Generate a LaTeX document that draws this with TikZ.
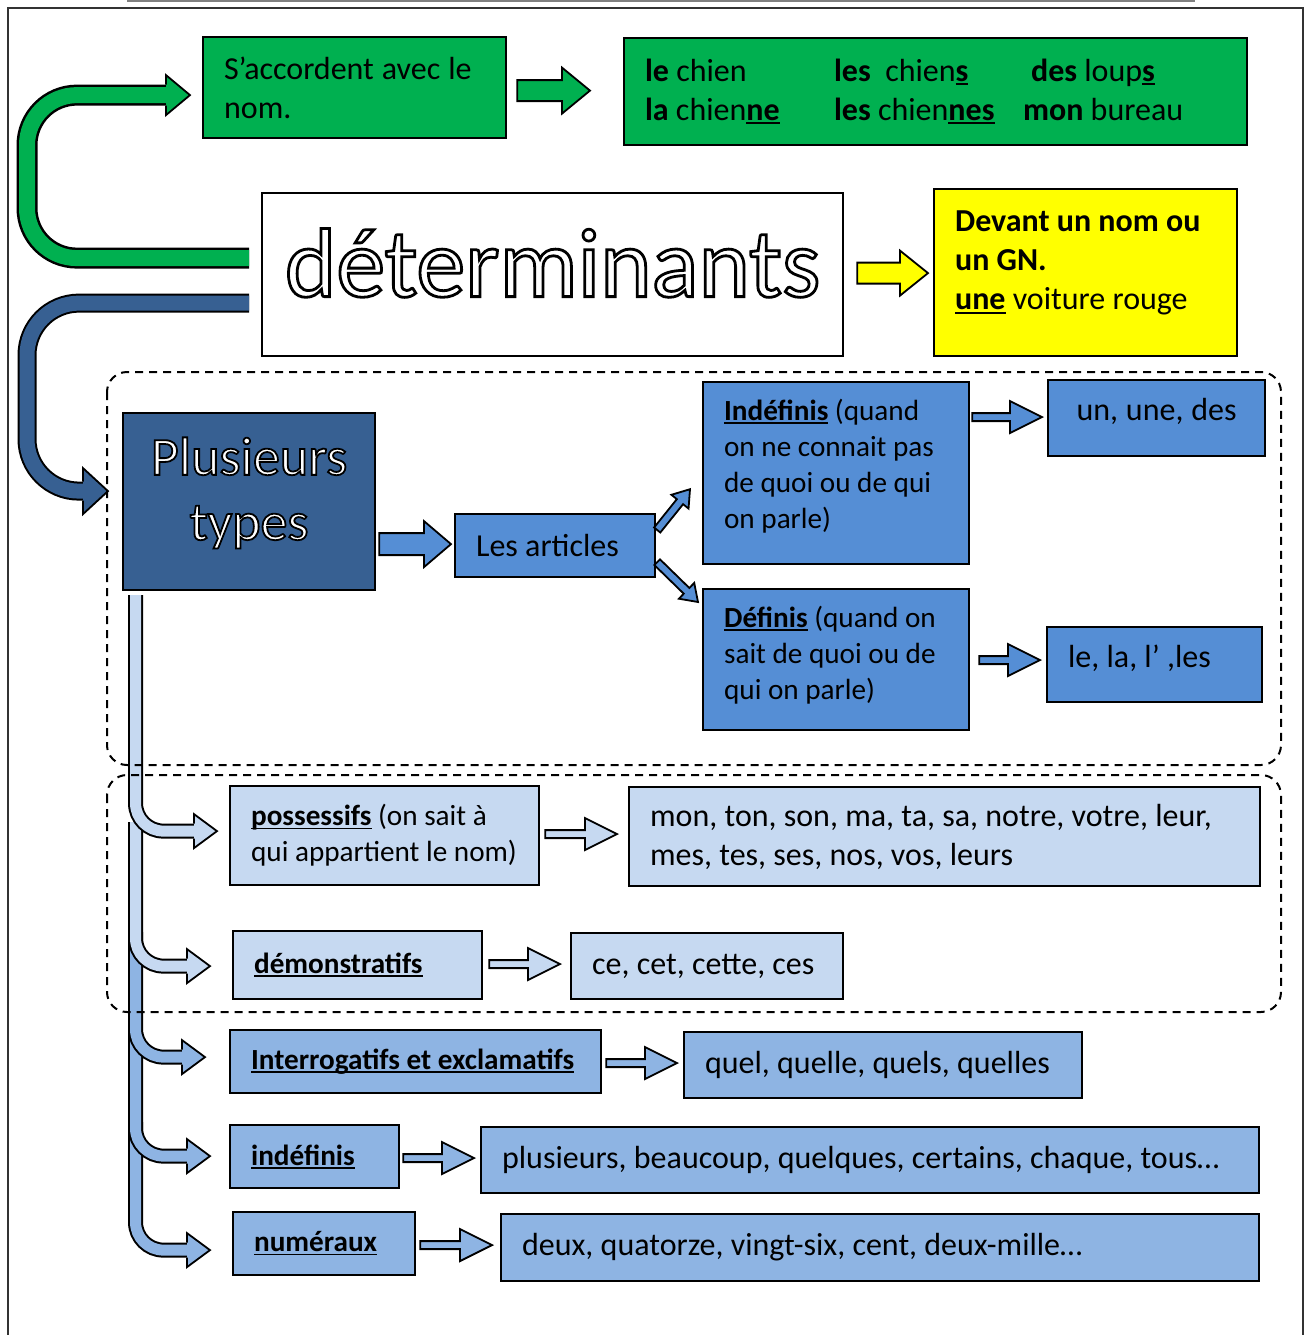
\documentclass[tikz,border=0pt]{standalone}
\usepackage{fontspec}
\setmainfont{Carlito}
\usepackage{xcolor}
\usepackage{tikz}
\usetikzlibrary{positioning, calc}
\definecolor{vert}{HTML}{00B050}
\definecolor{jaune}{HTML}{FFFF00}
\definecolor{bleufonce}{HTML}{376092}
\definecolor{bleu}{HTML}{558ED5}
\definecolor{bleuclair}{HTML}{C6D9F1}
\definecolor{bleumoyen}{HTML}{8EB4E3}

% word underlined close to the baseline
\newcommand{\souligne}[1]{\leavevmode\setbox0\hbox{#1}\rlap{\rule[-0.12em]{\wd0}{0.06em}}\box0\relax}
% white letters with a black outline (text render mode 2), [stroke width]
\newcommand{\creux}[2][1.5]{\special{pdf:literal direct 2 Tr #1 w 0 G 1 g}#2}

% straight block arrow: [style]{from}{to}{shaft half}{head half}{head length}
\newcommand{\blockarrow}[6][]{%
  \coordinate (ba-base) at ($(#3)!#6!(#2)$);
  \filldraw[fleche,#1] ($(#2)!#4!90:(#3)$) -- ($(ba-base)!#4!90:(#3)$)
    -- ($(ba-base)!#5!90:(#3)$) -- (#3) -- ($(ba-base)!#5!-90:(#3)$)
    -- ($(ba-base)!#4!-90:(#3)$) -- ($(#2)!#4!-90:(#3)$) -- cycle;
}
% head of a bent arrow: [style]{base}{tip}{shaft half}{head half}
\newcommand{\pointe}[5][]{%
  \filldraw[fleche,#1] ($(#2)+(0,-#4)$) -- ($(#2)+(0,-#5)$) -- (#3)
    -- ($(#2)+(0,#5)$) -- ($(#2)+(0,#4)$);
}

\begin{document}
\begin{tikzpicture}[x=0.5pt, y=-0.5pt,
    boite/.style={draw, line width=1.1pt, anchor=north west, inner xsep=10.5pt,
      inner ysep=0pt, align=left, font=\fontsize{16}{19.5}\selectfont,
      execute at begin node={\spaceskip=0pt\xspaceskip=0pt\relax}},
    petit/.style={font=\fontsize{14.6}{18}\selectfont},
    fleche/.style={draw, line width=0.9pt, line join=miter},
    cadre/.style={draw, line width=1pt, dash pattern=on 4pt off 3pt, rounded corners=10pt}]

    \useasboundingbox (0,0) rectangle (1305,1335);

    % page frame
    \draw[gray, line width=1pt] (127,1) -- (1195,1);
    \draw[black!80, line width=0.8pt] (8,1335) -- (8,8) -- (1303,8) -- (1303,1335);

    % top part
    \node[boite, fill=vert, text width=130.5pt, minimum height=50.5pt] (accord) at (202,36)
        {S’accordent avec le nom.};
    \node[boite, fill=vert, text width=290.5pt, minimum height=53.5pt] (exemples) at (623,37)
        {\makebox[94.5pt][l]{\textbf{le} chien}\makebox[98.5pt][l]{\textbf{les}\ \ chien\souligne{\textbf{s}}}\textbf{des} loup\souligne{\textbf{s}}\\
         \makebox[94.5pt][l]{\textbf{la} chien\souligne{\textbf{ne}}}\makebox[94.5pt][l]{\textbf{les} chien\souligne{\textbf{nes}}}\textbf{mon} bureau};
    \node[boite, fill=white, align=center, inner xsep=0pt, text width=290.5pt,
        minimum height=81.5pt, text depth=12pt, font=\fontsize{49}{55}\selectfont] (determ) at (261,192)
        {\creux[1.4]{déterminants}};
    \node[boite, fill=jaune, text width=130.5pt, minimum height=83.5pt, text depth=51pt] (devant) at (933,188)
        {\textbf{Devant un nom ou}\\ \textbf{un GN.}\\ \souligne{\textbf{une}} voiture rouge};

    % articles
    \node[boite, fill=bleufonce, align=center, inner xsep=0pt, text width=126pt,
        minimum height=88.5pt, text depth=45.5pt, font=\fontsize{27}{32.5}\selectfont] (plusieurs) at (122,412)
        {\creux[0.9]{Plusieurs\\ types}};
    \node[boite, fill=bleu, text width=79pt, minimum height=31.5pt] (articles) at (454,513) {Les articles};
    \node[boite, petit, fill=bleu, text width=112pt, minimum height=91pt, text depth=63.5pt] (indef) at (702,381)
        {\souligne{\textbf{Indéfinis}} (quand\\ on ne connait pas\\ de quoi ou de qui\\ on parle)};
    \node[boite, petit, fill=bleu, text width=112pt, minimum height=70.5pt, text depth=43pt] (defin) at (702,588)
        {\souligne{\textbf{Définis}} (quand on\\ sait de quoi ou de\\ qui on parle)};
    \node[boite, fill=bleu, align=center, text width=87.5pt, minimum height=38pt, text depth=9pt] (unune) at (1047,379)
        {un, une, des};
    \node[boite, fill=bleu, text width=86.5pt, minimum height=37.5pt, text depth=8.5pt] (lela) at (1046,626)
        {le, la, l’ ,les};

    % other types
    \node[boite, petit, fill=bleuclair, text width=133.5pt, minimum height=49.5pt] (poss) at (229,785)
        {\souligne{\textbf{possessifs}} (on sait à\\ qui appartient le nom)};
    \node[boite, fill=bleuclair, text width=294.5pt, minimum height=49.5pt] (monton) at (628,786)
        {mon, ton, son, ma, ta, sa, notre, votre, leur,\\ mes, tes, ses, nos, vos, leurs};
    \node[boite, petit, fill=bleuclair, text width=103.5pt, minimum height=34pt] (demo) at (232,930)
        {\souligne{\textbf{démonstratifs}}};
    \node[boite, fill=bleuclair, text width=115pt, minimum height=33pt] (cecet) at (570,932)
        {ce, cet, cette, ces};
    \node[boite, petit, fill=bleumoyen, text width=164.5pt, minimum height=31.5pt] (interr) at (229,1029)
        {\souligne{\textbf{Interrogatifs et exclamatifs}}};
    \node[boite, fill=bleumoyen, text width=178pt, minimum height=33pt] (quel) at (683,1031)
        {quel, quelle, quels, quelles};
    \node[boite, petit, fill=bleumoyen, text width=63.5pt, minimum height=31.5pt] (indefs) at (229,1124)
        {\souligne{\textbf{indéfinis}}};
    \node[boite, fill=bleumoyen, text width=368pt, minimum height=33pt] (plus) at (480,1126)
        {plusieurs, beaucoup, quelques, certains, chaque, tous…};
    \node[boite, petit, fill=bleumoyen, text width=70pt, minimum height=31.5pt] (num) at (232,1211)
        {\souligne{\textbf{numéraux}}};
    \node[boite, fill=bleumoyen, text width=358pt, minimum height=33.5pt] (deux) at (500,1213)
        {deux, quatorze, vingt-six, cent, deux-mille…};

    % straight arrows
    \coordinate (va1) at ($(accord.east)+(10,3)$);
    \coordinate (va2) at ($(va1 -| exemples.west)+(-33,0)$);
    \coordinate (ja1) at ($(determ.east)+(13,-1.5)$);
    \coordinate (ja2) at ($(ja1 -| devant.west)+(-5,0)$);
    \coordinate (pa1) at ($(plusieurs.east |- articles.west)+(3,-1.5)$);
    \coordinate (pa2) at ($(articles.west)+(-3,-1.5)$);
    \blockarrow[fill=vert]{va1}{va2}{5.25pt}{11.5pt}{14pt}
    \blockarrow[fill=jaune]{ja1}{ja2}{5.25pt}{11.25pt}{14pt}
    \blockarrow[fill=bleu]{pa1}{pa2}{5.5pt}{11.5pt}{13.5pt}

    \coordinate (da1) at ($(articles.north east)+(1,17)$);
    \coordinate (da2) at ($(indef.south west)+(-12,-76)$);
    \coordinate (db1) at ($(articles.south east)+(1,-16)$);
    \coordinate (db2) at ($(defin.north west)+(-4,14)$);
    \blockarrow[fill=bleu]{da1}{da2}{2pt}{5.5pt}{8pt}
    \blockarrow[fill=bleu]{db1}{db2}{2pt}{5.5pt}{8pt}

    \coordinate (ia1) at ($(indef.east |- unune.west)+(2,-1)$);
    \coordinate (ia2) at ($(unune.west)+(-5,-1)$);
    \coordinate (la1) at ($(defin.east |- lela.west)+(9,-4.5)$);
    \coordinate (la2) at ($(lela.west)+(-6,-4.5)$);
    \coordinate (pm1) at ($(poss.east)+(5,-1.5)$);
    \coordinate (pm2) at ($(pm1 -| monton.west)+(-11,0)$);
    \coordinate (dc1) at ($(demo.east)+(6,-1)$);
    \coordinate (dc2) at ($(dc1 -| cecet.west)+(-10,0)$);
    \coordinate (iq1) at ($(interr.east)+(4,1.5)$);
    \coordinate (iq2) at ($(iq1 -| quel.west)+(-6,0)$);
    \coordinate (ip1) at ($(indefs.east)+(3,1.5)$);
    \coordinate (ip2) at ($(ip1 -| plus.west)+(-6,0)$);
    \coordinate (nd1) at ($(num.east)+(4,1.5)$);
    \coordinate (nd2) at ($(nd1 -| deux.west)+(-8,0)$);
    \foreach \a/\b/\coul in {ia1/ia2/bleu, la1/la2/bleu, pm1/pm2/bleuclair, dc1/dc2/bleuclair,
        iq1/iq2/bleumoyen, ip1/ip2/bleumoyen, nd1/nd2/bleumoyen} {
        \blockarrow[fill=\coul]{\a}{\b}{2pt}{8pt}{16pt}
    }

    % bent arrows from the title
    \coordinate (gs) at ($(determ.west)+(-12,-16.5)$);
    \coordinate (gt) at ($(accord.west)+(-12,7.5)$);
    \coordinate (gb) at ($(gt)+(-24,0)$);
    \draw[line width=10.5pt, rounded corners=25pt] (gs) -- ++(-222,0) |- (gb);
    \draw[vert, line width=8pt, rounded corners=25pt] (gs) -- ++(-222,0) |- (gb);
    \pointe[fill=vert]{gb}{gt}{10.5}{20}

    \coordinate (bs) at ($(determ.west)+(-12,28.5)$);
    \coordinate (bt) at ($(plusieurs.west)+(-14,-10.5)$);
    \coordinate (bb) at ($(bt)+(-25,0)$);
    \draw[line width=9.5pt, rounded corners=26pt] (bs) -- ++(-222,0) |- (bb);
    \draw[bleufonce, line width=7.5pt, rounded corners=26pt] (bs) -- ++(-222,0) |- (bb);
    \pointe[fill=bleufonce]{bb}{bt}{9.5}{23}

    % branches under Plusieurs types
    \coordinate (tronc) at ($(plusieurs.south west)+(13.5,4)$);
    \coordinate (t1) at ($(poss.west)+(-12,-4.5)$);
    \coordinate (t2) at ($(demo.west)+(-22,1)$);
    \coordinate (t3) at ($(interr.west)+(-24,-4.5)$);
    \coordinate (t4) at ($(indefs.west)+(-19,-0.5)$);
    \coordinate (t5) at ($(num.west)+(-22,6.5)$);
    \foreach \n/\dy/\coul in {5/527/bleumoyen, 4/437/bleumoyen, 3/337/bleumoyen,
        2/227/bleuclair, 1/0/bleuclair} {
        \coordinate (h\n) at ($(t\n)+(-23,0)$);
        \draw[line width=7.5pt, rounded corners=14pt] ($(tronc)+(0,\dy)$) |- (h\n);
        \draw[\coul, line width=5.5pt, rounded corners=14pt] ($(tronc)+(0,\dy)$) |- (h\n);
        \pointe[fill=\coul]{h\n}{t\n}{7.5}{17}
    }

    % dashed groups
    \draw[cadre] (107,372) rectangle (1281,765);
    \draw[cadre] (107,775) rectangle (1281,1012);

\end{tikzpicture}
\end{document}
